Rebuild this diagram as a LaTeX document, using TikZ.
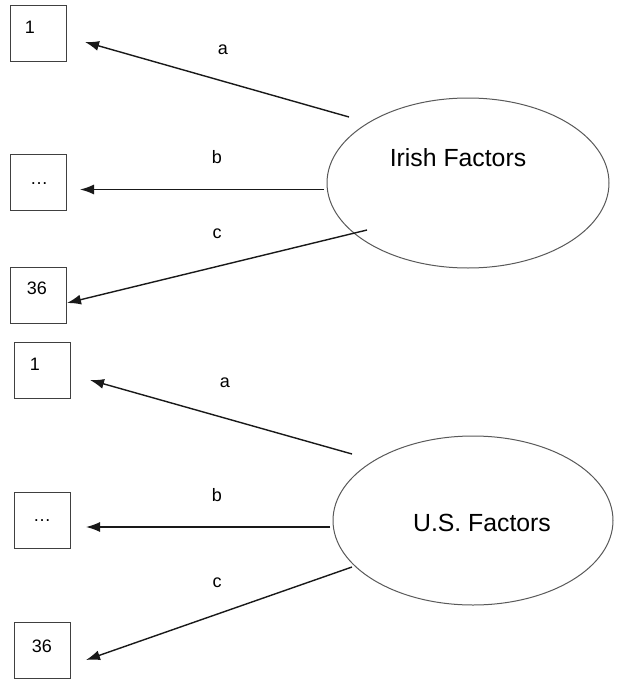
\documentclass[tikz,border=0pt]{standalone}
\usepackage{fontspec}
\setmainfont{Liberation Sans}
\usetikzlibrary{arrows.meta,shapes.geometric}
\begin{document}
\begin{tikzpicture}[x=1pt,y=-1pt,
 box/.style={draw=black!75,line width=1pt,minimum width=56pt,minimum height=56pt,inner sep=0pt},
 fac/.style={draw=black!65,line width=1pt,ellipse,inner sep=0pt},
 conn/.style={draw=black!90,line width=1.4pt,-{Latex[length=14pt,width=10pt]}},
 lab/.style={font=\fontsize{18}{20}\selectfont,anchor=base,inner sep=0pt},
 big/.style={font=\fontsize{24.8}{28}\selectfont,anchor=base,inner sep=0pt}]
\fill[white] (0,0) rectangle (616,680);
\useasboundingbox (0,0) rectangle (616,680);
% ---------- top group ----------
\node[box] (t1) at (38,33) {};
\node[box] (tdots) at (38,182.5) {};
\node[box] (t36) at (38,295) {};
\node[lab] (t1txt) at (30,34) {1};
\node[lab] (tdotstxt) at (39,184) {\ldots};
\node[lab] (t36txt) at (37,294.5) {36};
\node[fac,minimum width=282pt,minimum height=170pt] (irish) at (468,183) {};
\node[big] (irishtxt) at (458,166) {Irish Factors};
\coordinate (tas) at (349,117);
\coordinate (tae) at (85,42);
\coordinate (tbs) at (324,189.5);
\coordinate (tbe) at (80,189.5);
\coordinate (tcs) at (367,230);
\coordinate (tce) at (67,303);
\draw[conn] (tas) -- (tae);
\draw[conn] (tbs) -- (tbe);
\draw[conn] (tcs) -- (tce);
\node[lab] (tla) at (223,54) {a};
\node[lab] (tlb) at (217,163) {b};
\node[lab] (tlc) at (217,238) {c};
% ---------- bottom group ----------
\node[box] (b1) at (42.5,370) {};
\node[box] (bdots) at (42.5,520) {};
\node[box] (b36) at (42.5,650.5) {};
\node[lab] (b1txt) at (35,370) {1};
\node[lab] (bdotstxt) at (42,521.5) {\ldots};
\node[lab] (b36txt) at (42,652) {36};
\node[fac,minimum width=280pt,minimum height=169pt] (us) at (473,520.5) {};
\node[big] (ustxt) at (482,531) {U.S. Factors};
\coordinate (bas) at (352,454);
\coordinate (bae) at (90,380);
\coordinate (bbs) at (330,527);
\coordinate (bbe) at (86,527);
\coordinate (bcs) at (352,567);
\coordinate (bce) at (86,660);
\draw[conn] (bas) -- (bae);
\draw[conn] (bbs) -- (bbe);
\draw[conn] (bcs) -- (bce);
\node[lab] (bla) at (225,387) {a};
\node[lab] (blb) at (217,501) {b};
\node[lab] (blc) at (217,587) {c};
\end{tikzpicture}
\end{document}
